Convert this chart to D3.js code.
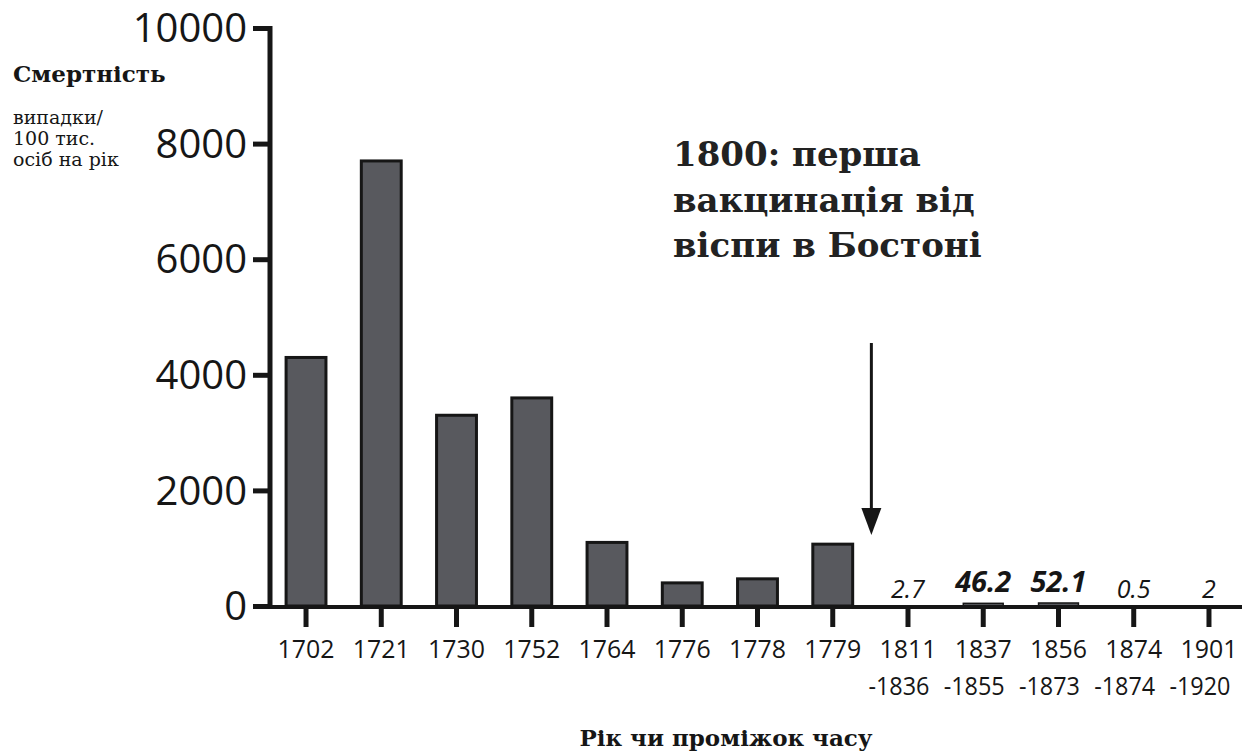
<!DOCTYPE html>
<html>
<head>
<meta charset="utf-8">
<script src="https://cdn.jsdelivr.net/npm/d3@7"></script>
<style>
  body { margin: 0; background: #fff; }
  svg { display: block; }
</style>
</head>
<body>
<div id="chart"></div>
<script>
// data
const years = ["1702", "1721", "1730", "1752", "1764", "1776", "1778", "1779", "1811", "1837", "1856", "1874", "1901"];
const yearsEnd = ["", "", "", "", "", "", "", "", "-1836", "-1855", "-1873", "-1874", "-1920"];
const deaths = [4300, 7700, 3300, 3600, 1100, 400, 470, 1070, 2.7, 46.2, 52.1, 0.5, 2];
const yTicks = [0, 2000, 4000, 6000, 8000, 10000];
const yTitle = "Смертність";
const yUnits = ["випадки/", "100 тис.", "осіб на рік"];
const xTitle = "Рік чи проміжок часу";
const note = ["1800: перша", "вакцинація від", "віспи в Бостоні"];

const W = 1254, H = 755;
const ink = "#161616";

const svg = d3.select("#chart").append("svg")
    .attr("width", W).attr("height", H);

let x = d3.scaleBand().domain(years)
    .range([268.4, 1246.6]).paddingInner(0.47).paddingOuter(0.235);
let y = d3.scaleLinear().domain([0, 10000]).range([606, 28]);

// bars
svg.append("g").selectAll("rect")
    .data(deaths)
    .join("rect")
    .attr("x", (d, i) => x(years[i]))
    .attr("width", x.bandwidth())
    .attr("y", d => y(d))
    .attr("height", d => y(0) - y(d))
    .attr("fill", "#58595e")
    .attr("stroke", ink)
    .attr("stroke-width", d => d > 100 ? 3 : 1.5);

// y axis
let yAxis = svg.append("g").attr("transform", "translate(270,0)")
    .call(d3.axisLeft(y).tickValues(yTicks).tickSize(17).tickPadding(6).tickFormat(d3.format("d")));
yAxis.select(".domain").attr("d", "M0," + (y(10000) - 2) + "V" + (y(0) + 3))
    .attr("stroke", ink).attr("stroke-width", 5);
yAxis.selectAll(".tick line").attr("stroke", ink).attr("stroke-width", 5);
yAxis.selectAll(".tick text")
    .attr("font-family", "'Open Sans', sans-serif").attr("font-size", 40)
    .attr("dy", "0.34em")
    .attr("fill", ink);

// x axis
let xAxis = svg.append("g").attr("transform", "translate(0," + (y(0) + 1) + ")")
    .call(d3.axisBottom(x).tickSize(20).tickPadding(0).tickFormat(""));
xAxis.select(".domain").attr("d", "M268,0H1242")
    .attr("stroke", ink).attr("stroke-width", 4);
xAxis.selectAll(".tick line").attr("stroke", ink).attr("stroke-width", 5);

let xLabels = svg.append("g")
    .attr("font-family", "'Open Sans', sans-serif").attr("font-size", 26)
    .attr("fill", ink).attr("text-anchor", "middle");
xLabels.selectAll("text.first")
    .data(years).join("text").attr("class", "first")
    .attr("x", d => x(d) + x.bandwidth() / 2)
    .attr("y", 658)
    .attr("textLength", 57).attr("lengthAdjust", "spacingAndGlyphs")
    .text(d => d);
xLabels.selectAll("text.second")
    .data(yearsEnd.filter(d => d)).join("text").attr("class", "second")
    .attr("x", (d, i) => x(years[yearsEnd.indexOf(d)]) + x.bandwidth() / 2 - 9)
    .attr("y", 695)
    .attr("textLength", 61).attr("lengthAdjust", "spacingAndGlyphs")
    .text(d => d);

// value labels for the small bars
svg.append("g").selectAll("text")
    .data(deaths.map((v, i) => ({ v: v, year: years[i] })).filter(d => d.v < 100))
    .join("text")
    .attr("x", d => x(d.year) + x.bandwidth() / 2)
    .attr("y", d => d.v > 10 ? y(0) - 14 : y(0) - 8)
    .attr("text-anchor", "middle")
    .attr("font-family", "'Open Sans', sans-serif")
    .attr("font-style", "italic")
    .attr("font-weight", d => d.v > 10 ? 700 : 400)
    .attr("font-size", d => d.v > 10 ? 29 : 25)
    .attr("fill", ink)
    .text(d => d.v);

// y title
svg.append("text")
    .attr("x", 13).attr("y", 82)
    .attr("font-family", "'DejaVu Serif', serif").attr("font-weight", 700)
    .attr("font-size", 23).attr("fill", ink)
    .text(yTitle);
svg.append("g").selectAll("text")
    .data(yUnits).join("text")
    .attr("x", 13).attr("y", (d, i) => 124 + i * 21)
    .attr("font-family", "'DejaVu Serif', serif")
    .attr("font-size", 19).attr("fill", ink)
    .text(d => d);

// x title
svg.append("text")
    .attr("x", 726).attr("y", 746)
    .attr("text-anchor", "middle")
    .attr("font-family", "'DejaVu Serif', serif").attr("font-weight", 700)
    .attr("font-size", 23).attr("fill", ink)
    .text(xTitle);

// annotation + arrow
svg.append("g").selectAll("text")
    .data(note).join("text")
    .attr("x", 673).attr("y", (d, i) => 166 + i * 45.5)
    .attr("font-family", "'DejaVu Serif', serif").attr("font-weight", 700)
    .attr("font-size", 34).attr("fill", "#222")
    .text(d => d);

let ax = (x("1779") + x("1811") + x.bandwidth()) / 2 + 1;
svg.append("line")
    .attr("x1", ax).attr("x2", ax).attr("y1", 343).attr("y2", 515)
    .attr("stroke", ink).attr("stroke-width", 3);
svg.append("path")
    .attr("d", "M" + (ax - 10) + ",508L" + (ax + 10) + ",508L" + ax + ",535Z")
    .attr("fill", ink);
</script>
</body>
</html>
